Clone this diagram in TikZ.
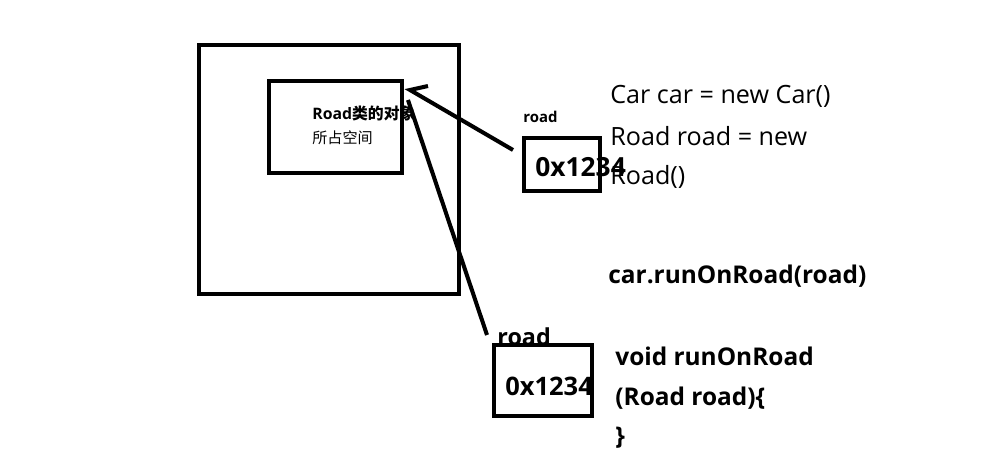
\documentclass[tikz,border=0pt]{standalone}
\usepackage{fontspec}
\setmainfont{Open Sans}
\newfontfamily\cjk{Noto Sans CJK SC}
\tikzset{
  membox/.style={draw=black, line width=2.3pt, inner sep=0pt},
  link/.style={draw=black, line width=2.3pt},
  code/.style={anchor=west, inner sep=0pt, font=\fontsize{14.3}{16}\selectfont},
  codeb/.style={anchor=west, inner sep=0pt, font=\bfseries\fontsize{13.9}{16}\selectfont},
  addr/.style={anchor=west, inner sep=0pt, font=\bfseries\fontsize{15}{17}\selectfont},
  varlab/.style={anchor=west, inner sep=0pt, font=\bfseries\fontsize{8.5}{10}\selectfont}
}
\begin{document}
\begin{tikzpicture}[x=0.02cm, y=-0.02cm]
  \useasboundingbox (0,0) rectangle (1000,475);

  % heap: outer space and the Road object
  \node[membox, minimum width=5.2cm, minimum height=4.98cm] (heap) at (329,169.5) {};
  \node[membox, minimum width=2.66cm, minimum height=1.84cm] (obj) at (335.5,127) {};
  \node[anchor=west, inner sep=0pt, font=\bfseries\fontsize{9}{11}\selectfont] (objtxt) at (312,113) {Road{\cjk 类的对象}};
  \node[anchor=west, inner sep=0pt, font=\cjk\fontsize{8.6}{10}\selectfont] (objtxt2) at (312,138) {所占空间};

  % reference variable in main
  \node[membox, minimum width=1.52cm, minimum height=1.06cm] (ptra) at (562,164.5) {};
  \node[varlab] (laba) at (523,117) {road};
  \node[addr] (addra) at (535,167) {0x1234};

  % parameter variable in runOnRoad
  \node[membox, minimum width=1.96cm, minimum height=1.42cm] (ptrb) at (543,380.5) {};
  \node[varlab, font=\bfseries\fontsize{13.3}{15}\selectfont] (labb) at (497,337) {road};
  \node[addr, font=\bfseries\fontsize{14.5}{17}\selectfont] (addrb) at (505,386) {0x1234};

  % code
  \node[code] (c1) at (610,96) {Car car = new Car()};
  \node[code] (c2) at (610,136) {Road road = new};
  \node[code] (c3) at (610,177) {Road()};
  \node[codeb] (c4) at (608,276) {car.runOnRoad(road)};
  \node[codeb] (c5) at (615,356) {void runOnRoad};
  \node[codeb] (c6) at (615,398) {(Road road)\{};
  \node[codeb] (c7) at (615,438) {\}};

  % pointers
  \coordinate (tipa) at (410,90);
  \coordinate (barb) at (428,86);
  \coordinate (taila) at (513,150);
  \coordinate (tipb) at (408,100);
  \coordinate (tailb) at (487,335);
  \draw[link] (taila) -- (tipa) -- (barb);
  \draw[link] (tailb) -- (tipb);
\end{tikzpicture}
\end{document}
